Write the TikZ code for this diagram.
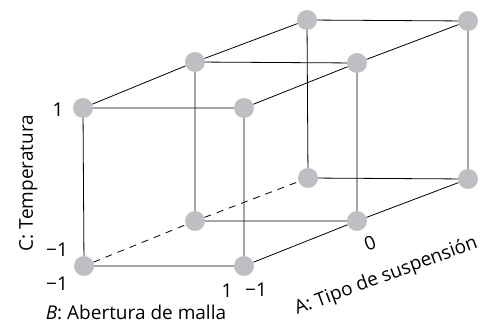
\documentclass[tikz,border=0pt]{standalone}
\usepackage{fontspec}
\setmainfont{Open Sans}
\usetikzlibrary{positioning}
\definecolor{dotgray}{RGB}{190,191,194}
\tikzset{
  dot/.style={circle, fill=dotgray, minimum size=20pt, inner sep=0pt},
  cubeline/.style={draw, line width=0.8pt},
  hidden/.style={cubeline, dash pattern=on 7pt off 6pt},
  lbl/.style={font=\fontsize{19}{21}\selectfont, inner sep=0pt}
}
\begin{document}
\begin{tikzpicture}[x=1pt, y=1pt]
\useasboundingbox (0,0) rectangle (491,325);
% front layer (A = -1)
\node[dot] (fbl) at (84,59) {};
\node[dot] (fbr) at (244,59) {};
\node[dot] (ftl) at (83,217) {};
\node[dot] (ftr) at (244,217) {};
% middle layer (A = 0)
\node[dot] (mbl) at (195,104) {};
\node[dot] (mbr) at (357,104) {};
\node[dot] (mtl) at (195,263) {};
\node[dot] (mtr) at (357,262) {};
% back layer (A = 1)
\node[dot] (bbl) at (308,147) {};
\node[dot] (bbr) at (468,146) {};
\node[dot] (btl) at (307,305) {};
\node[dot] (btr) at (468,304) {};
% faces
\draw[cubeline] (fbl) -- (fbr) -- (ftr) -- (ftl) -- (fbl);
\draw[cubeline] (mbl) -- (mbr) -- (mtr) -- (mtl) -- (mbl);
\draw[cubeline] (bbl) -- (bbr) -- (btr) -- (btl) -- (bbl);
% depth edges
\draw[cubeline] (ftl) -- (mtl) -- (btl);
\draw[cubeline] (ftr) -- (mtr) -- (btr);
\draw[cubeline] (fbr) -- (mbr) -- (bbr);
\draw[hidden] (fbl) -- (mbl) -- (bbl);
% levels
\node[lbl] (c1) at (58,215) {1};
\node[lbl] (c0) at (57,75) {−1};
\node[lbl] (b0) at (57,41) {−1};
\node[lbl] (b1) at (227,34) {1};
\node[lbl] (a0) at (256,35) {−1};
\node[lbl, rotate=21] (a1) at (370,82) {0};
% axis names
\node[lbl, anchor=base, rotate=90] (cax) at (33,142) {C: Temperatura};
\node[lbl, anchor=base] (bax) at (136,6) {\textit{B}: Abertura de malla};
\node[lbl, anchor=base, rotate=20.5] (aax) at (388,44) {A: Tipo de suspensión};
\end{tikzpicture}
\end{document}
